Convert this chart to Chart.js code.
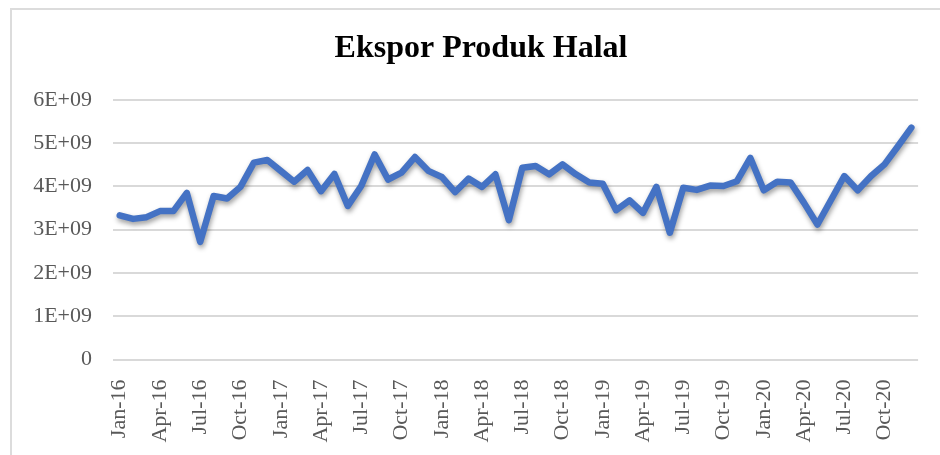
<!DOCTYPE html>
<html>
<head>
<meta charset="utf-8">
<script src="https://cdn.jsdelivr.net/npm/chart.js@4"></script>
<style>
  body { margin: 0; background: #fff; }
  #frame { position: absolute; left: 10px; top: 8px; width: 940px; height: 460px; border: 2px solid #dcdcdc; box-sizing: border-box; }
  #chart { position: absolute; left: 0; top: 0; }
</style>
</head>
<body>
<div id="frame"><canvas id="chart" width="938" height="447"></canvas></div>
<script>
// months Jan-16 .. Dec-20
var months = [
  'Jan-16','Feb-16','Mar-16','Apr-16','May-16','Jun-16','Jul-16','Aug-16','Sep-16','Oct-16','Nov-16','Dec-16',
  'Jan-17','Feb-17','Mar-17','Apr-17','May-17','Jun-17','Jul-17','Aug-17','Sep-17','Oct-17','Nov-17','Dec-17',
  'Jan-18','Feb-18','Mar-18','Apr-18','May-18','Jun-18','Jul-18','Aug-18','Sep-18','Oct-18','Nov-18','Dec-18',
  'Jan-19','Feb-19','Mar-19','Apr-19','May-19','Jun-19','Jul-19','Aug-19','Sep-19','Oct-19','Nov-19','Dec-19',
  'Jan-20','Feb-20','Mar-20','Apr-20','May-20','Jun-20','Jul-20','Aug-20','Sep-20','Oct-20','Nov-20','Dec-20'
];

// export values (USD)
var ekspor = [
  3.33e9, 3.25e9, 3.29e9, 3.43e9, 3.43e9, 3.85e9, 2.72e9, 3.78e9, 3.72e9, 3.99e9, 4.55e9, 4.61e9,
  4.36e9, 4.11e9, 4.38e9, 3.89e9, 4.29e9, 3.55e9, 4.01e9, 4.74e9, 4.16e9, 4.32e9, 4.68e9, 4.36e9,
  4.22e9, 3.87e9, 4.18e9, 3.99e9, 4.28e9, 3.22e9, 4.43e9, 4.47e9, 4.28e9, 4.51e9, 4.28e9, 4.09e9,
  4.06e9, 3.45e9, 3.68e9, 3.39e9, 3.99e9, 2.93e9, 3.97e9, 3.92e9, 4.02e9, 4.01e9, 4.12e9, 4.66e9,
  3.91e9, 4.11e9, 4.09e9, 3.62e9, 3.12e9, 3.68e9, 4.24e9, 3.91e9, 4.24e9, 4.51e9, 4.93e9, 5.36e9
];

var yTickLabels = ['0', '1E+09', '2E+09', '3E+09', '4E+09', '5E+09', '6E+09'];

var serif = "'Liberation Serif', 'Times New Roman', serif";

// soft drop shadow under the line, like the office chart
var lineShadow = {
  id: 'lineShadow',
  beforeDatasetsDraw: function (chart) {
    var ctx = chart.ctx;
    ctx.save();
    ctx.shadowColor = 'rgba(0,0,0,0.38)';
    ctx.shadowBlur = 5;
    ctx.shadowOffsetX = 1;
    ctx.shadowOffsetY = 3;
  },
  afterDatasetsDraw: function (chart) {
    chart.ctx.restore();
  }
};

new Chart(document.getElementById('chart').getContext('2d'), {
  type: 'line',
  data: {
    labels: months,
    datasets: [{
      label: 'Ekspor',
      data: ekspor,
      borderColor: '#4472C4',
      borderWidth: 6.5,
      borderCapStyle: 'round',
      borderJoinStyle: 'round',
      pointRadius: 0,
      tension: 0,
      fill: false
    }]
  },
  options: {
    responsive: false,
    animation: false,
    layout: { padding: 0 },
    plugins: {
      legend: { display: false },
      tooltip: { enabled: false },
      title: {
        display: true,
        text: 'Ekspor Produk Halal',
        color: '#000',
        font: { family: serif, size: 32, weight: 'bold', lineHeight: 1.2 },
        padding: { top: 20, bottom: 31.5 }
      }
    },
    scales: {
      x: {
        offset: true,
        grid: { display: false },
        border: { display: false },
        ticks: {
          autoSkip: false,
          minRotation: 90,
          maxRotation: 90,
          padding: 12,
          color: '#595959',
          font: { family: serif, size: 22 },
          callback: function (value, index) {
            return index % 3 === 0 ? months[index] : '';
          }
        },
        afterFit: function (scale) { scale.height = 97.5; }
      },
      y: {
        min: 0,
        max: 6e9,
        grid: { color: '#d9d9d9', lineWidth: 2, drawTicks: false },
        border: { display: false },
        ticks: {
          stepSize: 1e9,
          padding: 21,
          color: '#595959',
          font: { family: serif, size: 22 },
          callback: function (value, index) {
            return yTickLabels[index];
          }
        },
        afterFit: function (scale) { scale.width = 101; }
      },
      // empty right-hand spacer so the title stays centred on the whole frame
      spacer: {
        position: 'right',
        grid: { display: false },
        border: { display: false },
        ticks: { display: false },
        afterFit: function (scale) { scale.width = 28; }
      }
    }
  },
  plugins: [lineShadow]
});
</script>
</body>
</html>
